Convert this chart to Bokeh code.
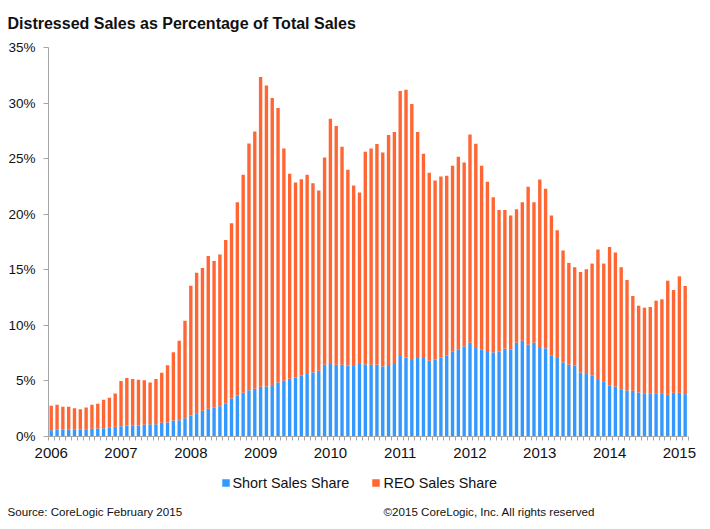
from bokeh.plotting import figure
from bokeh.models import (FixedTicker, Label, PrintfTickFormatter, Range1d, ColumnDataSource)
from bokeh.embed import file_html
from bokeh.resources import INLINE

# Monthly shares (%), Jan 2006 .. Feb 2015
short_share = [0.57, 0.60, 0.60, 0.60, 0.60, 0.60, 0.66, 0.69, 0.72, 0.75, 0.78, 0.87,
               0.93, 0.96, 0.96, 0.99, 1.05, 1.11, 1.11, 1.23, 1.26, 1.44, 1.47, 1.65,
               1.89, 2.10, 2.31, 2.49, 2.58, 2.73, 2.97, 3.42, 3.66, 3.93, 4.17, 4.29,
               4.47, 4.50, 4.62, 4.86, 5.02, 5.20, 5.32, 5.47, 5.62, 5.77, 5.92, 6.46,
               6.52, 6.46, 6.46, 6.37, 6.34, 6.52, 6.49, 6.46, 6.46, 6.31, 6.43, 6.52,
               7.24, 7.12, 6.88, 7.06, 7.06, 6.82, 6.91, 7.12, 7.30, 7.63, 7.81, 8.11,
               8.44, 7.96, 7.81, 7.69, 7.57, 7.63, 7.90, 7.81, 8.44, 8.62, 8.26, 8.44,
               7.96, 7.93, 7.27, 7.06, 6.67, 6.46, 6.37, 5.77, 5.62, 5.47, 5.17, 4.92,
               4.56, 4.50, 4.20, 4.14, 4.11, 3.96, 3.84, 3.84, 3.84, 3.84, 3.75, 3.93,
               3.93, 3.81]
reo_share = [2.19, 2.25, 2.07, 2.07, 1.95, 1.86, 1.95, 2.16, 2.22, 2.55, 2.70, 3.00,
             4.07, 4.30, 4.21, 4.11, 4.00, 3.75, 4.06, 4.51, 5.14, 6.13, 7.15, 8.77,
             11.68, 12.64, 12.86, 13.76, 13.22, 13.64, 14.72, 15.77, 17.42, 19.61, 22.20, 23.16,
             27.87, 27.09, 25.83, 24.69, 20.90, 18.43, 17.53, 17.68, 17.92, 17.02, 16.21, 18.65,
             22.07, 21.47, 19.61, 17.62, 16.24, 15.43, 19.13, 19.46, 19.85, 19.25, 20.69, 20.87,
             23.84, 24.08, 23.03, 20.33, 18.38, 16.90, 16.12, 16.27, 16.15, 16.72, 17.36, 16.54,
             18.74, 18.38, 16.54, 15.22, 13.96, 12.76, 12.49, 12.07, 12.01, 12.46, 14.20, 12.64,
             15.16, 14.35, 12.61, 11.50, 10.06, 9.16, 8.86, 9.03, 9.43, 10.09, 11.65, 10.64,
             12.50, 12.05, 11.03, 9.94, 8.53, 7.81, 7.75, 7.81, 8.38, 8.50, 10.27, 9.25,
             10.48, 9.73]
year_labels = ["2006", "2007", "2008", "2009", "2010", "2011", "2012", "2013", "2014", "2015"]
y_ticks = [0, 5, 10, 15, 20, 25, 30, 35]
series_names = ["Short Sales Share", "REO Sales Share"]
colors = ["#3399FF", "#FF6633"]
title_text = "Distressed Sales as Percentage of Total Sales"
footer_texts = ["Source: CoreLogic February 2015", "\u00a92015 CoreLogic, Inc. All rights reserved"]

n = len(short_share)
x_idx = list(range(n))
src = ColumnDataSource(dict(x=x_idx, short=short_share, reo=reo_share))

# ---- geometry (canvas pixels): plot area 48..687 horizontally, 0% at 436, 35% at 47
W, H = 710, 529
AX_L, AX_R = 48, 687
AX_TOP, AX_BOT = 47, 436
XA, XB = -0.47, n - 0.6          # data x at the axis ends
YA, YB = 0, 35
SX = (AX_R - AX_L) / (XB - XA)
SY = (AX_BOT - AX_TOP) / (YB - YA)
X_START = XA - AX_L / SX
X_END = X_START + W / SX
Y_END = YB + AX_TOP / SY
Y_START = Y_END - H / SY


def fx(px):
    return X_START + px / SX


def fy(py):
    return Y_END - py / SY


FONT = "Liberation Sans"
AX = "#a6a6a6"
TXT = "#111111"

p = figure(width=W, height=H, output_backend="svg", toolbar_location=None,
           x_range=Range1d(X_START, X_END), y_range=Range1d(Y_START, Y_END),
           min_border=0)
p.min_border_left = p.min_border_right = p.min_border_top = p.min_border_bottom = 0
p.title.visible = False
p.background_fill_color = "white"
p.border_fill_color = "white"
p.outline_line_color = None
p.grid.visible = False

rs = p.vbar_stack(["short", "reo"], x="x", width=0.58, source=src,
                  fill_color=colors, line_color=None)

xa = p.xaxis[0]
xa.fixed_location = 0
xa.bounds = (XA, XB)
year_pos = [12 * i for i in range(len(year_labels))]
xa.ticker = FixedTicker(ticks=year_pos, minor_ticks=[i - 0.5 for i in range(n + 1)])
xa.major_label_overrides = {pos: lab for pos, lab in zip(year_pos, year_labels)}
xa.major_tick_out = 0
xa.major_tick_in = 0
xa.minor_tick_out = 4
xa.minor_tick_in = 0
xa.minor_tick_line_color = AX
xa.axis_line_color = AX
xa.major_label_standoff = 7
xa.major_label_text_font = FONT
xa.major_label_text_font_size = "15px"
xa.major_label_text_color = TXT

ya = p.yaxis[0]
ya.fixed_location = XA
ya.bounds = (YA, YB)
ya.ticker = FixedTicker(ticks=y_ticks)
ya.formatter = PrintfTickFormatter(format="%d%%")
ya.major_tick_out = 5
ya.major_tick_in = 0
ya.minor_tick_out = 0
ya.minor_tick_in = 0
ya.major_tick_line_color = AX
ya.axis_line_color = AX
ya.major_label_standoff = 8
ya.major_label_text_font = FONT
ya.major_label_text_font_size = "13.5px"
ya.major_label_text_color = TXT

# ---- title
p.add_layout(Label(x=fx(7), y=fy(22.7), text=title_text,
                   text_font=FONT, text_font_style="bold", text_font_size="16px",
                   text_color=TXT, text_baseline="alphabetic", text_align="left"))

# ---- legend (keys + labels)
LEG_Y = 482.5
key_px = [225.5, 375.5]
lab_px = [232, 383]
p.rect(x=[fx(k) for k in key_px], y=[fy(LEG_Y)] * 2, width=7.5, height=7.5,
       width_units="screen", height_units="screen", fill_color=colors, line_color=None)
for name, lx in zip(series_names, lab_px):
    p.add_layout(Label(x=fx(lx), y=fy(LEG_Y), text=name, text_font=FONT,
                       text_font_size="14.4px", text_color=TXT,
                       text_baseline="middle", text_align="left"))

# ---- footer
for t, fxp in zip(footer_texts, [7, 383]):
    p.add_layout(Label(x=fx(fxp), y=fy(510.5), text=t, text_font=FONT,
                       text_font_size="11.6px", text_color=TXT,
                       text_baseline="middle", text_align="left"))

open("out.html", "w").write(file_html(p, INLINE))
